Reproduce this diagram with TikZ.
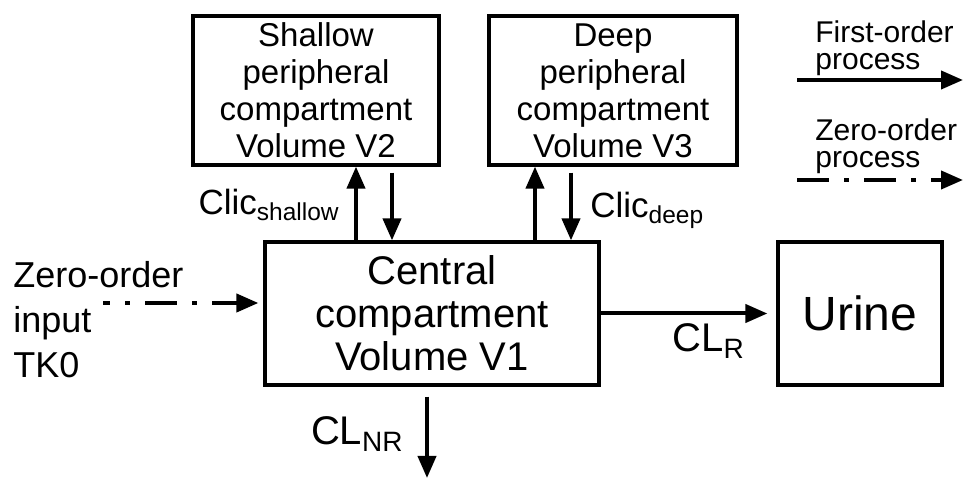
\documentclass[tikz,border=0pt]{standalone}
\usepackage{fontspec}
\setmainfont{Liberation Sans}
\usetikzlibrary{arrows.meta,positioning,calc}

\begin{document}
\begin{tikzpicture}[
  x=0.5pt, y=-0.5pt,
  comp/.style={draw, line width=1.6pt, align=center, inner sep=0pt},
  periph/.style={comp, minimum width=123pt, minimum height=74.5pt, font=\fontsize{16.5}{18.5}\selectfont},
  lbl/.style={inner sep=0pt, font=\fontsize{18}{22.5}\selectfont},
  leg/.style={inner sep=0pt, align=left, font=\fontsize{15}{13.5}\selectfont},
  flow/.style={->, line width=2pt},
  zflow/.style={->, line width=2pt, dash pattern=on 16pt off 7.5pt on 2.5pt off 7.5pt},
  >={Triangle[length=11pt,width=9pt]}
]
\useasboundingbox (0,0) rectangle (965,480);

\node[periph] (shallow) at (316,90.5) {Shallow\\peripheral\\compartment\\Volume V2};
\node[periph, minimum width=124pt] (deep) at (613,90.5) {Deep\\peripheral\\compartment\\Volume V3};
\node[comp, minimum width=167pt, minimum height=71.5pt, font=\fontsize{20}{21.5}\selectfont] (central) at (432,313.5) {Central\\compartment\\Volume V1};
\node[comp, minimum width=82pt, minimum height=71.5pt, font=\fontsize{24}{28}\selectfont] (urine) at (860,313.5) {Urine};

% exchange with the peripheral compartments
\coordinate (sUp) at ([xshift=20pt]shallow.south);
\coordinate (sDn) at ([xshift=38pt,yshift=-3pt]shallow.south);
\draw[flow] (sUp |- central.north) -- (sUp);
\draw[flow] (sDn) -- (sDn |- central.north);
\coordinate (dUp) at ([xshift=-39pt]deep.south);
\coordinate (dDn) at ([xshift=-21pt,yshift=-3pt]deep.south);
\draw[flow] (dUp |- central.north) -- (dUp);
\draw[flow] (dDn) -- (dDn |- central.north);
\node[lbl, anchor=base east, font=\fontsize{17.5}{20}\selectfont] (clicS) at (340,215) {Clic\textsubscript{shallow}};
\node[lbl, anchor=base west, font=\fontsize{17.5}{20}\selectfont] (clicD) at (590,218) {Clic\textsubscript{deep}};

% input and elimination
\node[lbl, align=left, anchor=north west] (tk0) at (13,261) {Zero-order\\input\\TK0};
\coordinate (tkStart) at (103,303);
\draw[zflow, dash phase=12.5pt, shorten >=2.5pt] (tkStart) -- (tkStart -| central.west);
\draw[flow, shorten >=4.5pt] (central) -- (urine);
\node[lbl, anchor=base west, font=\fontsize{20}{24}\selectfont] (clr) at (672,352) {CL\textsubscript{R}};
\coordinate (nrEnd) at (427,478);
\draw[flow] ([yshift=-5pt]central.south -| nrEnd) -- (nrEnd);
\node[lbl, anchor=base east, font=\fontsize{20}{24}\selectfont] (clnr) at (404,445) {CL\textsubscript{NR}};

% legend
\node[leg, anchor=north west] (legFirst) at (815,20) {First-order\\process};
\node[leg, anchor=north west] (legZero) at (815,118) {Zero-order\\process};
\coordinate (lf0) at (797,80);
\coordinate (lz0) at (797,180);
\draw[flow] (lf0) -- ++(166,0);
\draw[zflow] (lz0) -- ++(166,0);
\end{tikzpicture}
\end{document}
